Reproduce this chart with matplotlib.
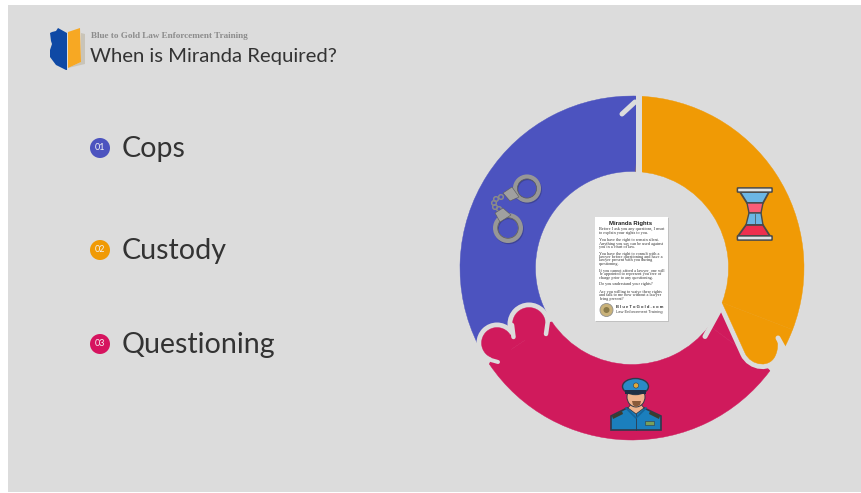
import numpy as np
import matplotlib

matplotlib.use("Agg")
import matplotlib.pyplot as plt
from matplotlib.patches import Circle, Ellipse, FancyBboxPatch, PathPatch, Polygon, Rectangle, Wedge
from matplotlib.path import Path

# slices, angles in degrees counter-clockwise from 3 o'clock
SLICE_NAMES = ["Cops", "Custody", "Questioning"]
SLICE_START = [87.5, -21.0, 214.0]
SLICE_SPAN = [119.5, 108.7, 109.3]
SLICE_COLORS = ["#4c53bf", "#f09a05", "#d01a5c"]

LEGEND_NUMBERS = ["01", "02", "03"]
LEGEND_ROWS = [148, 250, 344]
LEGEND_DOTS = ["#4c53bf", "#f09a05", "#d6145f"]

SUBTITLE = "Blue to Gold Law Enforcement Training"
TITLE = "When is Miranda Required?"

CARD_TITLE = "Miranda Rights"
CARD_LINES = [
    "Before I ask you any questions, I must",
    "to explain your rights to you.",
    "You have the right to remain silent.",
    "Anything you say can be used against",
    "you in a court of law.",
    "You have the right to consult with a",
    "lawyer before questioning and have a",
    "lawyer present with you during",
    "questioning.",
    "If you cannot afford a lawyer, one will",
    "be appointed to represent you free of",
    "charge prior to any questioning.",
    "Do you understand your rights?",
    "Are you willing to waive these rights",
    "and talk to me now without a lawyer",
    "being present?",
]
CARD_LINE_Y = [229, 233, 240, 244, 247, 254, 257, 260, 264, 271, 274, 278, 284, 292, 295, 299]

BG = "#dcdcdc"
PX = 0.72  # one pixel in points at dpi 100
CX, CY = 632, 268
R_OUT, R_IN = 172, 96.5


def ring_xy(angle, radius):
    a = np.radians(angle)
    return CX + radius * np.cos(a), CY - radius * np.sin(a)


def solid(color):
    # thin edge of the same colour hides the seams between touching shapes
    return {"facecolor": color, "edgecolor": color, "lw": 0.3}


def ring_slice(ax, start, span, color):
    # y axis points down, so the angles flip
    ax.add_patch(Wedge((CX, CY), R_OUT, -(start + span), -start, width=R_OUT - R_IN, **solid(color)))


def slit(ax, p1, p2, width=5):
    ax.plot([p1[0], p2[0]], [p1[1], p2[1]], color=BG, lw=width * PX, solid_capstyle="round")


def tail_path():
    # rounded end of the orange slice
    verts = [ring_xy(-21, R_IN), (745, 353), (751, 366), (771, 369), (776, 354),
             (778, 349), (778, 344), (777, 338), ring_xy(-27, R_OUT)]
    codes = [Path.MOVETO, Path.LINETO, Path.CURVE4, Path.CURVE4, Path.CURVE4,
             Path.CURVE4, Path.CURVE4, Path.CURVE4, Path.LINETO]
    for a in np.arange(-26, -20.5, 1.0):
        verts.append(ring_xy(a, R_OUT))
        codes.append(Path.LINETO)
    verts.append(ring_xy(-21, R_IN))
    codes.append(Path.CLOSEPOLY)
    return Path(verts, codes)


def draw_ring(ax):
    cops, custody, questioning = SLICE_COLORS
    ring_slice(ax, SLICE_START[0], SLICE_SPAN[0], cops)

    # the two lobes of the red slice bite into the blue one
    lobes = [((497, 343), 15.5), ((529, 324), 16.5)]
    for c, r in lobes:
        ax.add_patch(Circle(c, r + 5, facecolor=BG, edgecolor="none"))

    ring_slice(ax, SLICE_START[2], SLICE_SPAN[2], questioning)
    for c, r in lobes:
        ax.add_patch(Circle(c, r, **solid(questioning)))
    ax.add_patch(Polygon([lobes[0][0], lobes[1][0], ring_xy(214, R_IN), ring_xy(214, R_OUT)],
                         **solid(questioning)))
    # filler running under the cut against the orange tail
    inner = [ring_xy(a, R_IN) for a in np.arange(-36.7, -25.9, 1.5)]
    ax.add_patch(Polygon(inner + [(730, 305), (755, 355), (760, 360), ring_xy(-36.7, R_OUT)],
                         **solid(questioning)))

    ax.add_patch(PathPatch(tail_path(), facecolor=BG, edgecolor=BG, lw=10 * PX))
    ring_slice(ax, SLICE_START[1], SLICE_SPAN[1], custody)
    ax.add_patch(PathPatch(tail_path(), **solid(custody)))

    # gaps and notches
    ax.add_patch(Rectangle((636, 90), 6, 86, facecolor=BG, edgecolor="none"))
    slit(ax, (635, 102), (622, 114), 5)
    slit(ax, (512, 325), (513.5, 337), 4.5)
    slit(ax, (548, 320), (546, 334), 4.5)
    slit(ax, (484, 358), (498, 362), 4)
    slit(ax, (719, 311), (705, 336.5), 5)
    slit(ax, (778, 338), (783, 347), 5)


def draw_card(ax):
    ax.add_patch(Rectangle((596, 218), 73, 104, facecolor="#b0b0b0", edgecolor="none", alpha=0.6))
    ax.add_patch(Rectangle((595, 217), 73, 104, facecolor="white", edgecolor="none"))
    ax.text(631, 224, CARD_TITLE, fontsize=4.3, fontweight="bold", family="Liberation Sans",
            ha="center", va="center", color="#222222")
    for line, y in zip(CARD_LINES, CARD_LINE_Y):
        ax.text(599, y, line, fontsize=3.1, family="Liberation Serif", ha="left", va="center",
                color="#333333")
    ax.add_patch(Circle((606.5, 310), 6.5, facecolor="#c9b27a", edgecolor="#8f8f8f", lw=0.6))
    ax.add_patch(Circle((606.5, 310), 3, facecolor="#8a7a4a", edgecolor="none"))
    ax.text(616, 307.5, "B l u e T o G o l d . c o m", fontsize=3.0, fontweight="bold",
            family="Liberation Sans", ha="left", va="center", color="#333333")
    ax.text(616, 311.5, "Law Enforcement Training", fontsize=2.9, family="Liberation Sans",
            ha="left", va="center", color="#444444")


def draw_cuffs(ax):
    steel, dark = "#979797", "#5a5a5a"
    for c, r, w in [((527, 188.5), 11.8, 4.5), ((508, 228), 12.5, 5)]:
        ax.add_patch(Circle((c[0] + 0.8, c[1] + 1.2), r, facecolor="none", edgecolor="#30346f",
                            lw=w * PX, alpha=0.5))
        ax.add_patch(Circle(c, r, facecolor="none", edgecolor=steel, lw=w * PX))
        ax.add_patch(Circle(c, r - 2.2, facecolor="none", edgecolor=dark, lw=0.5))
    for c in [(501, 197), (496, 199), (494, 203), (495, 207), (499, 209)]:
        ax.add_patch(Circle(c, 2.3, facecolor="none", edgecolor="#8a8a8a", lw=1.1))
    ax.add_patch(Polygon([(503, 193), (512, 187), (519, 197), (510, 201)], facecolor="#a0a0a0",
                         edgecolor=dark, lw=0.4))
    ax.add_patch(Polygon([(495, 213), (503, 208), (511, 215), (500, 222)], facecolor="#a0a0a0",
                         edgecolor=dark, lw=0.4))


def draw_hourglass(ax):
    line = "#4a4a4a"
    blue, red, pale = "#6cb6e4", "#ee2f4e", "#fb5d78"
    ax.add_patch(Polygon([(740, 192), (769, 192), (763, 203), (747, 203)], facecolor=blue,
                         edgecolor=line, lw=1.3))
    ax.add_patch(Polygon([(747, 203), (763, 203), (761, 213), (749, 213)], facecolor=pale,
                         edgecolor=line, lw=1.0))
    ax.add_patch(Polygon([(749, 213), (761, 213), (763, 225), (746, 225)], facecolor=blue,
                         edgecolor=line, lw=1.0))
    ax.plot([754.5, 754.5], [214, 224], color=line, lw=0.5)
    ax.add_patch(Polygon([(746, 225), (763, 225), (770, 236), (738, 236)], facecolor=red,
                         edgecolor=line, lw=1.3))
    for y in (188, 236):
        ax.add_patch(FancyBboxPatch((738, y + 0.5), 33.5, 3, boxstyle="round,pad=0.6",
                                    facecolor="#dfe3e6", edgecolor=line, lw=1.1))


def draw_officer(ax):
    line = "#2f3a4a"
    # shoulders and jacket
    ax.add_patch(Polygon([(611, 430), (611, 416), (627, 408), (644, 408), (661, 416), (661, 430)],
                         facecolor="#1b7fbd", edgecolor=line, lw=1.2))
    ax.add_patch(Polygon([(628, 408), (636, 414), (644, 408), (640, 403), (632, 403)],
                         facecolor="#efb38c", edgecolor=line, lw=0.6))
    ax.plot([636, 636], [414, 430], color=line, lw=0.6)
    ax.plot([626, 636, 646], [408, 418, 408], color="#14649a", lw=1.2)
    # epaulettes and badge
    ax.add_patch(Polygon([(612, 416), (622, 411), (623, 414), (613, 419)], facecolor="#3c3c2e",
                         edgecolor="none"))
    ax.add_patch(Polygon([(650, 411), (660, 416), (659, 419), (649, 414)], facecolor="#3c3c2e",
                         edgecolor="none"))
    ax.add_patch(Rectangle((645, 421), 9, 4, facecolor="#79a05a", edgecolor=line, lw=0.4))
    # face
    ax.add_patch(Ellipse((636, 397), 18, 20, facecolor="#efb38c", edgecolor=line, lw=0.7))
    ax.add_patch(Polygon([(632, 401), (641, 401), (640, 405), (636, 407), (633, 405)],
                         facecolor="#8a5a3a", edgecolor="none"))
    # cap
    ax.add_patch(Ellipse((635.5, 386.5), 26, 16, facecolor="#2a8ac6", edgecolor=line, lw=1.0))
    ax.add_patch(Rectangle((625, 390), 21, 3.5, facecolor="#1f2f45", edgecolor="none"))
    ax.add_patch(Circle((636, 385.5), 2.6, facecolor="#e0a93a", edgecolor=line, lw=0.4))


def draw_logo(ax):
    # pages behind the shield
    ax.add_patch(Polygon([(68, 68), (85, 64), (85, 34), (81, 33), (81, 62)], facecolor="#c9c4b8",
                         edgecolor="none"))
    ax.add_patch(Polygon([(68, 32), (80, 28), (81, 62), (68, 68)], facecolor="#f7a823",
                         edgecolor="none"))
    verts = [(58, 28), (56, 31), (52, 32), (50, 33), (51, 41), (52, 44), (50, 50), (50, 57),
             (56, 65), (66, 70), (67, 70), (67, 33), (58, 28)]
    ax.add_patch(Polygon(verts, facecolor="#0f49a5", edgecolor="none"))


fig = plt.figure(figsize=(8.61, 4.93), dpi=100, facecolor="white")
ax = fig.add_axes([0, 0, 1, 1])
ax.set_xlim(0, 861)
ax.set_ylim(493, 0)
ax.set_axis_off()

ax.add_patch(Rectangle((8, 5), 853, 487, facecolor=BG, edgecolor="none"))

draw_ring(ax)
draw_card(ax)
draw_cuffs(ax)
draw_hourglass(ax)
draw_officer(ax)
draw_logo(ax)

ax.text(91, 35.5, SUBTITLE, fontsize=6.6, family="Liberation Serif", fontweight="bold",
        color="#8c8c8c", ha="left", va="center")
ax.text(90, 62, TITLE, fontsize=14.6, family="Lato", color="#333333", ha="left", va="baseline")

for name, num, y, col in zip(SLICE_NAMES, LEGEND_NUMBERS, LEGEND_ROWS, LEGEND_DOTS):
    ax.add_patch(Circle((100, y), 10, facecolor=col, edgecolor="none"))
    ax.text(100, y, num, fontsize=6.5, family="Lato", color="#f4f4f4", ha="center", va="center")
    ax.text(122, y + 9, name, fontsize=20.6, family="Lato", color="#333333", ha="left", va="baseline")

fig.savefig("out.png", dpi=100, facecolor=fig.get_facecolor())
